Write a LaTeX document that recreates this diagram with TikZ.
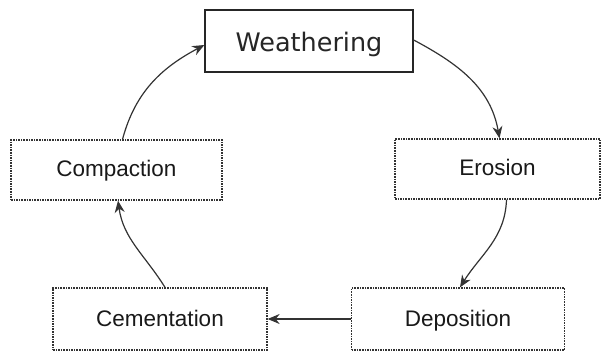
\documentclass[tikz,border=0pt]{standalone}
\usepackage{fontspec}
\setmainfont{Liberation Sans}
\newfontfamily\titlefont{DejaVu Sans}
\usetikzlibrary{arrows.meta}
\begin{document}
\begin{tikzpicture}[x=1pt,y=1pt,
  stagebox/.style={draw=black!80, line width=1.3pt, dash pattern=on 1.6pt off 1pt,
    fill=white, minimum height=60pt, inner sep=0pt, font=\fontsize{22.5}{26}\selectfont,
    text=black!90, text height=16pt, text depth=2pt},
  topbox/.style={draw=black!85, line width=1.3pt, fill=white, minimum width=208pt,
    minimum height=62pt, inner sep=0pt, font=\titlefont\fontsize{25.5}{30}\selectfont,
    text=black!85, text height=21.5pt, text depth=0pt},
  flow/.style={draw=black!80, line width=1.2pt, -{Stealth[length=12pt,width=10pt]}}]
\useasboundingbox (0,0) rectangle (602,351);
\node[topbox] (weath) at (309,310) {Weathering};
\node[stagebox, minimum width=211pt] (comp) at (116.5,181) {Compaction};
\node[stagebox, minimum width=205pt] (eros) at (497.5,182) {Erosion};
\node[stagebox, minimum width=214pt, minimum height=62pt] (cem) at (160,32) {Cementation};
\node[stagebox, minimum width=213pt, minimum height=62pt] (dep) at (458,32) {Deposition};
\draw[flow] ([xshift=6pt]comp.north) to[out=75, in=208] ([yshift=-4pt]weath.west);
\draw[flow] ([yshift=1pt]weath.east) to[out=-28, in=100] ([xshift=2pt]eros.north);
\draw[flow] ([xshift=9pt]eros.south) to[out=-92, in=58] ([xshift=2pt]dep.north);
\draw[flow] (dep.west) -- (cem.east);
\draw[flow] ([xshift=5pt]cem.north) to[out=122, in=-82] ([xshift=1.5pt]comp.south);
\end{tikzpicture}
\end{document}
